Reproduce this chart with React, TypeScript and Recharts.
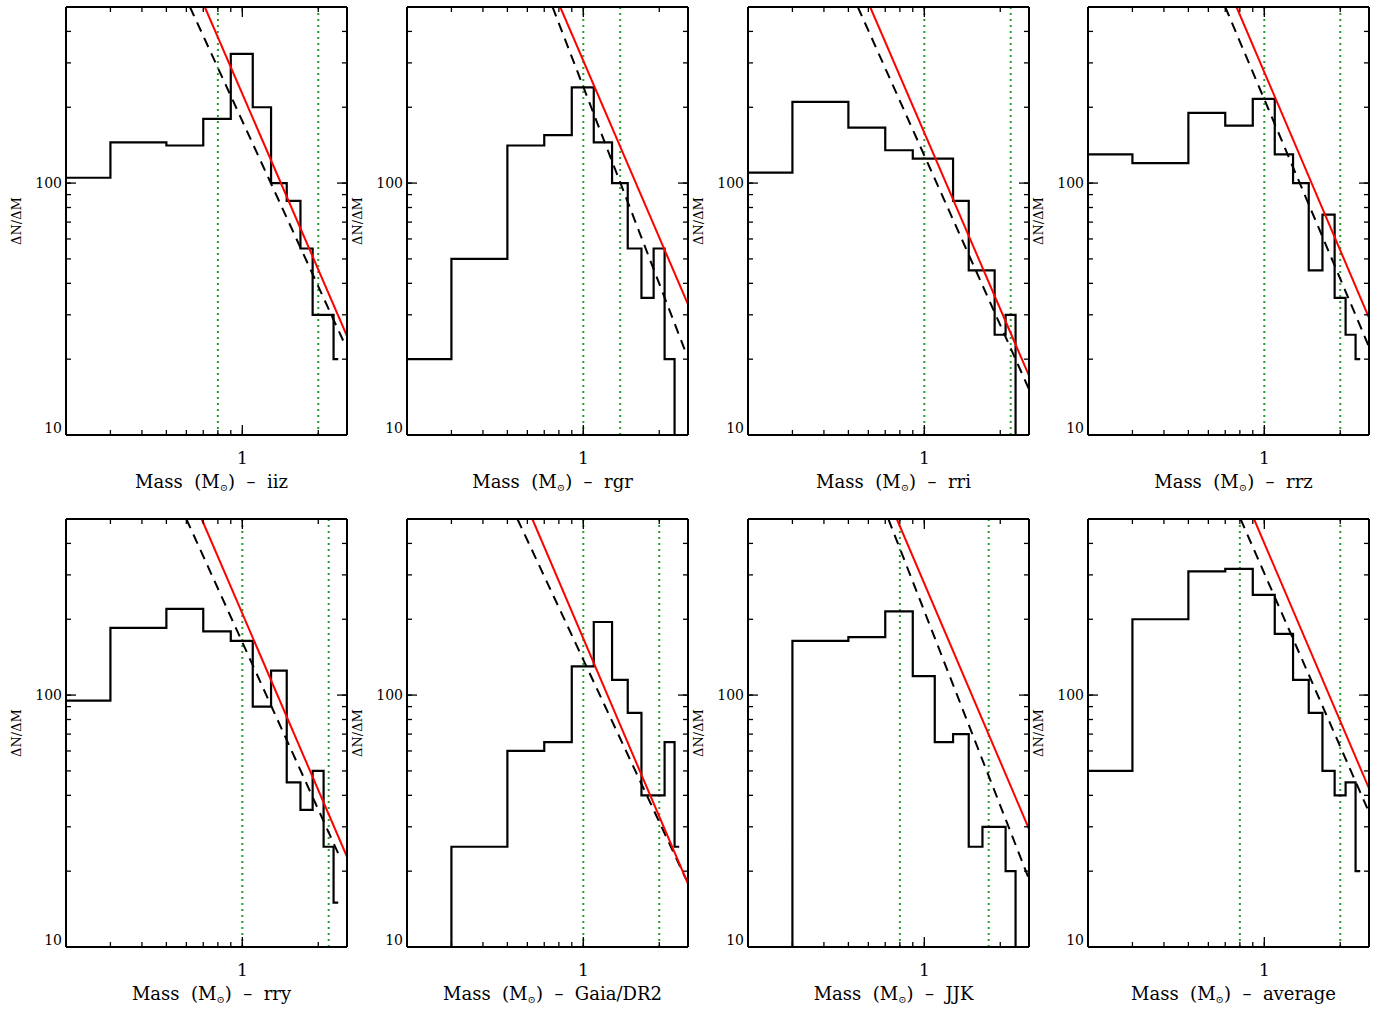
import React from "react";
import { ComposedChart, Line, XAxis, YAxis, ReferenceLine } from "recharts";

type Pt = { m: number; v: number };

// axes (mass in Msun, dN/dM)
const X_DOMAIN = [0.2, 2.6];
const Y_DOMAIN = [10, 500];
const xTicks = [0.3, 0.4, 0.5, 0.6, 0.7, 0.8, 0.9, 1, 2];
const yTicks = [10, 20, 30, 40, 50, 60, 70, 80, 90, 100, 200, 300, 400];
const xLabelled = [1];
const yLabelled = [10, 100];

// iiz
const iizEdges = [0.2, 0.3, 0.5, 0.7, 0.9, 1.1, 1.3, 1.5, 1.7, 1.9, 2.3, 2.4];
const iizCounts = [105, 145, 141, 180, 326, 200, 100, 85, 55, 30, 20];
const iizFit: Pt[] = [{ m: 0.71, v: 500 }, { m: 2.6, v: 24.7 }];
const iizFitAlt: Pt[] = [{ m: 0.62, v: 500 }, { m: 2.54, v: 23.1 }];
const iizLimits = [0.8, 2.0];

// rgr
const rgrEdges = [0.2, 0.3, 0.5, 0.7, 0.9, 1.1, 1.3, 1.5, 1.7, 1.9, 2.1, 2.3];
const rgrCounts = [20, 50, 141, 155, 240, 145, 100, 55, 35, 55, 20];
const rgrFit: Pt[] = [{ m: 0.81, v: 500 }, { m: 2.6, v: 33 }];
const rgrFitAlt: Pt[] = [{ m: 0.755, v: 500 }, { m: 2.56, v: 21 }];
const rgrLimits = [1.0, 1.4];

// rri
const rriEdges = [0.2, 0.3, 0.5, 0.7, 0.9, 1.3, 1.5, 1.9, 2.1, 2.3];
const rriCounts = [110, 210, 166, 135, 125, 85, 45, 25, 30];
const rriFit: Pt[] = [{ m: 0.61, v: 500 }, { m: 2.6, v: 17.2 }];
const rriFitAlt: Pt[] = [{ m: 0.545, v: 500 }, { m: 2.6, v: 15.2 }];
const rriLimits = [1.0, 2.2];

// rrz
const rrzEdges = [0.2, 0.3, 0.5, 0.7, 0.9, 1.1, 1.3, 1.5, 1.7, 1.9, 2.1, 2.3, 2.4];
const rrzCounts = [130, 120, 190, 169, 216, 130, 100, 45, 75, 35, 25, 20];
const rrzFit: Pt[] = [{ m: 0.776, v: 500 }, { m: 2.6, v: 29.2 }];
const rrzFitAlt: Pt[] = [{ m: 0.7, v: 500 }, { m: 2.6, v: 22.4 }];
const rrzLimits = [1.0, 2.0];

// rry
const rryEdges = [0.2, 0.3, 0.5, 0.7, 0.9, 1.1, 1.3, 1.5, 1.7, 1.9, 2.1, 2.3, 2.4];
const rryCounts = [95, 185, 220, 179, 164, 90, 125, 45, 35, 50, 25, 15];
const rryFit: Pt[] = [{ m: 0.69, v: 500 }, { m: 2.6, v: 22.8 }];
const rryFitAlt: Pt[] = [{ m: 0.6, v: 500 }, { m: 2.41, v: 23.3 }];
const rryLimits = [1.0, 2.2];

// Gaia/DR2
const gaiaEdges = [0.3, 0.5, 0.7, 0.9, 1.1, 1.3, 1.5, 1.7, 2.1, 2.3, 2.4];
const gaiaCounts = [25, 60, 65, 130, 195, 115, 85, 40, 65, 25];
const gaiaFit: Pt[] = [{ m: 0.628, v: 500 }, { m: 2.6, v: 17.8 }];
const gaiaFitAlt: Pt[] = [{ m: 0.548, v: 500 }, { m: 2.56, v: 18.5 }];
const gaiaLimits = [1.0, 2.0];

// JJK
const jjkEdges = [0.3, 0.5, 0.7, 0.9, 1.1, 1.3, 1.5, 1.7, 2.1, 2.3];
const jjkCounts = [164, 170, 215, 119, 65, 70, 25, 30, 20];
const jjkFit: Pt[] = [{ m: 0.778, v: 500 }, { m: 2.6, v: 29.4 }];
const jjkFitAlt: Pt[] = [{ m: 0.72, v: 500 }, { m: 2.6, v: 18.6 }];
const jjkLimits = [0.8, 1.8];

// average
const avgEdges = [0.2, 0.3, 0.5, 0.7, 0.9, 1.1, 1.3, 1.5, 1.7, 1.9, 2.1, 2.3, 2.4];
const avgCounts = [50, 200, 310, 317, 250, 175, 115, 85, 50, 40, 45, 20];
const avgFit: Pt[] = [{ m: 0.91, v: 500 }, { m: 2.6, v: 42.6 }];
const avgFitAlt: Pt[] = [{ m: 0.805, v: 500 }, { m: 2.57, v: 35.2 }];
const avgLimits = [0.8, 2.0];

const FONT = "'DejaVu Serif', serif";
const RED = "#ff0000";
const GREEN = "#2a9a2a";

// histogram -> points for a stepAfter line
const toSteps = (edges: number[], counts: number[], rise: boolean, drop: boolean): Pt[] => {
  const pts: Pt[] = [];
  if (rise) pts.push({ m: edges[0], v: Y_DOMAIN[0] });
  counts.forEach((c, i) => pts.push({ m: edges[i], v: c }));
  pts.push({ m: edges[edges.length - 1], v: drop ? Y_DOMAIN[0] : counts[counts.length - 1] });
  return pts;
};

const panels = [
  { name: "iiz", hist: toSteps(iizEdges, iizCounts, false, false), fit: iizFit, alt: iizFitAlt, lim: iizLimits },
  { name: "rgr", hist: toSteps(rgrEdges, rgrCounts, false, true), fit: rgrFit, alt: rgrFitAlt, lim: rgrLimits },
  { name: "rri", hist: toSteps(rriEdges, rriCounts, false, true), fit: rriFit, alt: rriFitAlt, lim: rriLimits },
  { name: "rrz", hist: toSteps(rrzEdges, rrzCounts, false, false), fit: rrzFit, alt: rrzFitAlt, lim: rrzLimits },
  { name: "rry", hist: toSteps(rryEdges, rryCounts, false, false), fit: rryFit, alt: rryFitAlt, lim: rryLimits },
  { name: "Gaia/DR2", hist: toSteps(gaiaEdges, gaiaCounts, true, false), fit: gaiaFit, alt: gaiaFitAlt, lim: gaiaLimits },
  { name: "JJK", hist: toSteps(jjkEdges, jjkCounts, true, true), fit: jjkFit, alt: jjkFitAlt, lim: jjkLimits },
  { name: "average", hist: toSteps(avgEdges, avgCounts, false, false), fit: avgFit, alt: avgFitAlt, lim: avgLimits },
];

// layout
const PLOT_W = 281;
const PLOT_H = 428;
const LEFT_W = 60;
const BOTTOM_H = 70;
const MINOR = 5;
const MAJOR = 10;
const plotLefts = [66, 406.7, 747.7, 1088.3];
const plotTops = [7, 519];

const frame = { stroke: "#000", strokeWidth: 2 };
const tickLineStyle = { stroke: "#000", strokeWidth: 1.3 };

// native tick lines are the short (inward) minor ticks; majors get extended here
const BottomTick = (p: any) => {
  const { x, y, payload } = p;
  const major = xLabelled.includes(payload.value);
  if (!major) return <g />;
  return (
    <g>
      <path d={`M${x},${y}V${y - MAJOR}`} stroke="#000" strokeWidth={1.3} fill="none" />
      <text x={x} y={y + 29} textAnchor="middle" fontFamily={FONT} fontSize={17} fill="#000">
        {payload.value}
      </text>
    </g>
  );
};

const TopTick = (p: any) => {
  const { x, y, payload } = p;
  if (!xLabelled.includes(payload.value)) return <g />;
  return <path d={`M${x},${y}V${y + MAJOR}`} stroke="#000" strokeWidth={1.3} fill="none" />;
};

const LeftTick = (p: any) => {
  const { x, y, payload } = p;
  if (!yLabelled.includes(payload.value)) return <g />;
  return (
    <g>
      <path d={`M${x},${y}H${x + MAJOR}`} stroke="#000" strokeWidth={1.3} fill="none" />
      <text
        x={x - 4}
        y={payload.value === 10 ? y - 7 : y}
        textAnchor="end"
        dominantBaseline="central"
        fontFamily={FONT}
        fontSize={14}
        fill="#000"
      >
        {payload.value}
      </text>
    </g>
  );
};

const RightTick = (p: any) => {
  const { x, y, payload } = p;
  if (!yLabelled.includes(payload.value)) return <g />;
  return <path d={`M${x},${y}H${x - MAJOR}`} stroke="#000" strokeWidth={1.3} fill="none" />;
};

const Panel = ({ panel }: { panel: (typeof panels)[number] }) => (
  <ComposedChart
    width={LEFT_W + PLOT_W + 1 + 4}
    height={5 + PLOT_H + BOTTOM_H}
    margin={{ top: 4, right: 4, bottom: 0, left: 0 }}
  >
    <XAxis
      xAxisId="b"
      dataKey="m"
      type="number"
      scale="log"
      domain={X_DOMAIN}
      allowDataOverflow
      ticks={xTicks}
      interval={0}
      tickSize={-MINOR}
      tickMargin={MINOR}
      tickLine={tickLineStyle}
      tick={BottomTick}
      axisLine={frame}
      height={BOTTOM_H}
      label={(lp: any) => {
        const vb = lp.viewBox;
        return (
          <text
            x={vb.x + vb.width / 2 + 5}
            y={vb.y + 53}
            textAnchor="middle"
            fontFamily={FONT}
            fontSize={18}
            fill="#000"
            style={{ whiteSpace: "pre" }}
          >
            {"Mass  (M"}
            <tspan fontSize={10} dy={3}>⊙</tspan>
            <tspan dy={-3}>{")  –  " + panel.name}</tspan>
          </text>
        );
      }}
    />
    <XAxis
      xAxisId="t"
      orientation="top"
      dataKey="m"
      type="number"
      scale="log"
      domain={X_DOMAIN}
      allowDataOverflow
      ticks={xTicks}
      interval={0}
      tickSize={-MINOR}
      tickMargin={MINOR}
      tickLine={tickLineStyle}
      tick={TopTick}
      axisLine={frame}
      height={1}
    />
    <YAxis
      yAxisId="l"
      type="number"
      scale="log"
      domain={Y_DOMAIN}
      allowDataOverflow
      ticks={yTicks}
      interval={0}
      tickSize={-MINOR}
      tickMargin={MINOR}
      tickLine={tickLineStyle}
      tick={LeftTick}
      axisLine={frame}
      width={LEFT_W}
      label={(lp: any) => {
        const vb = lp.viewBox;
        const cx = vb.x + 10;
        const cy = vb.y + vb.height / 2;
        return (
          <text
            x={cx}
            y={cy}
            transform={`rotate(-90 ${cx} ${cy})`}
            textAnchor="middle"
            dominantBaseline="central"
            fontFamily={FONT}
            fontSize={13}
            fill="#000"
          >
            ΔN/ΔM
          </text>
        );
      }}
    />
    <YAxis
      yAxisId="r"
      orientation="right"
      type="number"
      scale="log"
      domain={Y_DOMAIN}
      allowDataOverflow
      ticks={yTicks}
      interval={0}
      tickSize={-MINOR}
      tickMargin={MINOR}
      tickLine={tickLineStyle}
      tick={RightTick}
      axisLine={frame}
      width={1}
    />
    {panel.lim.map((m) => (
      <ReferenceLine
        key={m}
        x={m}
        xAxisId="b"
        yAxisId="l"
        stroke={GREEN}
        strokeWidth={2}
        strokeDasharray="2 4"
      />
    ))}
    <Line
      xAxisId="b"
      yAxisId="l"
      data={panel.hist}
      dataKey="v"
      type="stepAfter"
      stroke="#000"
      strokeWidth={2.2}
      dot={false}
      activeDot={false}
      isAnimationActive={false}
    />
    <Line
      xAxisId="b"
      yAxisId="l"
      data={panel.alt}
      dataKey="v"
      type="linear"
      stroke="#000"
      strokeWidth={2}
      strokeDasharray="10 7"
      dot={false}
      activeDot={false}
      isAnimationActive={false}
    />
    <Line
      xAxisId="b"
      yAxisId="l"
      data={panel.fit}
      dataKey="v"
      type="linear"
      stroke={RED}
      strokeWidth={2}
      dot={false}
      activeDot={false}
      isAnimationActive={false}
    />
  </ComposedChart>
);

export default function App() {
  return (
    <div style={{ position: "absolute", left: 0, top: 0, width: 1381, height: 1010, background: "#fff" }}>
      {panels.map((panel, i) => (
        <div
          key={panel.name}
          style={{
            position: "absolute",
            left: plotLefts[i % 4] - LEFT_W,
            top: plotTops[Math.floor(i / 4)] - 5,
          }}
        >
          <Panel panel={panel} />
        </div>
      ))}
    </div>
  );
}
